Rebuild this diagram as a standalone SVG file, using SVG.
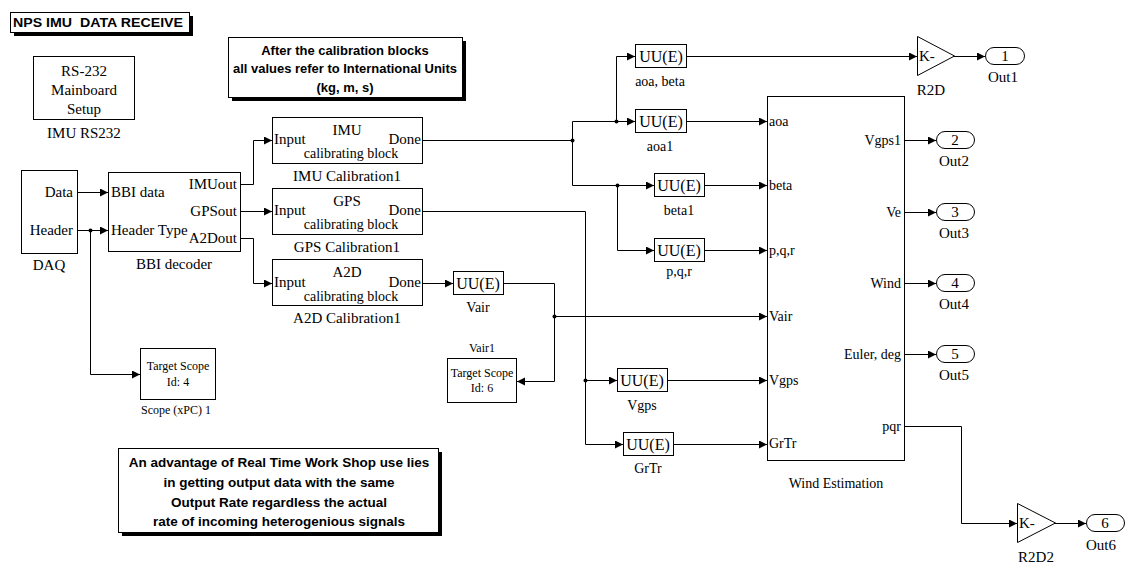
<svg xmlns="http://www.w3.org/2000/svg" width="1125" height="565" viewBox="0 0 1125 565">
<style>
.s{font-family:"Liberation Serif","Times New Roman",serif;font-size:15px;fill:#000}
.cb{font-family:"Liberation Serif","Times New Roman",serif;font-size:14px;fill:#000}
.sm{font-family:"Liberation Serif","Times New Roman",serif;font-size:12px;fill:#000}
.p{font-family:"Liberation Serif","Times New Roman",serif;font-size:14px;fill:#000}
.u{font-family:"Liberation Serif","Times New Roman",serif;font-size:16px;fill:#000}
.b{font-family:"Liberation Sans",Arial,sans-serif;font-size:13.5px;font-weight:bold;fill:#000}
.b2{font-family:"Liberation Sans",Arial,sans-serif;font-size:13px;font-weight:bold;fill:#000}
.box{fill:#fff;stroke:#000;stroke-width:1}
.sh{fill:#000}
.w{fill:none;stroke:#000;stroke-width:1}
.c{text-anchor:middle}
.e{text-anchor:end}
</style>
<defs>
<marker id="a" markerUnits="userSpaceOnUse" markerWidth="9" markerHeight="9" refX="8" refY="4" orient="auto">
<path d="M0,0 L8,4 L0,8 z" fill="#000"/>
</marker>
</defs>
<rect width="1125" height="565" fill="#fff"/>

<g id="title">
<rect class="sh" x="14" y="16" width="179" height="20"/>
<rect class="box" x="10.5" y="12.5" width="179" height="20"/>
<text class="b" x="13" y="27" style="white-space:pre" textLength="170" lengthAdjust="spacingAndGlyphs">NPS IMU  DATA RECEIVE</text>
</g>

<g id="note-calib">
<rect class="sh" x="232" y="41" width="234" height="60"/>
<rect class="box" x="228.5" y="37.5" width="234" height="60"/>
<text class="b2 c" x="345" y="55">After the calibration blocks</text>
<text class="b2 c" x="345" y="73" textLength="224" lengthAdjust="spacingAndGlyphs">all values refer to International Units</text>
<text class="b2 c" x="345" y="92">(kg, m, s)</text>
</g>

<g id="note-rtw">
<rect class="sh" x="122" y="452" width="320" height="84"/>
<rect class="box" x="118.5" y="448.5" width="320" height="84"/>
<text class="b c" x="279" y="467">An advantage of Real Time Work Shop use lies</text>
<text class="b c" x="279" y="487">in getting output data with the same</text>
<text class="b c" x="279" y="507">Output Rate regardless the actual</text>
<text class="b c" x="279" y="526">rate of incoming heterogenious signals</text>
</g>

<g id="imu-rs232">
<rect class="box" x="33.5" y="56.5" width="101" height="63"/>
<text class="s c" x="84" y="76">RS-232</text>
<text class="s c" x="84" y="95">Mainboard</text>
<text class="s c" x="84" y="114">Setup</text>
<text class="s c" x="84" y="138">IMU RS232</text>
</g>

<g id="daq">
<rect class="box" x="21.5" y="170.5" width="56" height="83"/>
<text class="s e" x="73" y="197">Data</text>
<text class="s e" x="73" y="235">Header</text>
<text class="s c" x="49" y="270">DAQ</text>
</g>

<g id="bbi-decoder">
<rect class="box" x="108.5" y="172.5" width="132" height="79"/>
<text class="s" x="111" y="197">BBI data</text>
<text class="s" x="111" y="235">Header Type</text>
<text class="s e" x="237" y="189">IMUout</text>
<text class="s e" x="237" y="216">GPSout</text>
<text class="s e" x="237" y="243">A2Dout</text>
<text class="s c" x="174" y="269">BBI decoder</text>
</g>

<g id="imu-calibration1">
<rect class="box" x="272.5" y="117.5" width="150" height="46"/>
<text class="s c" x="347" y="135">IMU</text>
<text class="s" x="274" y="144">Input</text>
<text class="s e" x="421" y="144">Done</text>
<text class="cb c" x="351" y="158">calibrating block</text>
<text class="s c" x="347" y="181">IMU Calibration1</text>
</g>

<g id="gps-calibration1">
<rect class="box" x="272.5" y="188.5" width="150" height="46"/>
<text class="s c" x="347" y="206">GPS</text>
<text class="s" x="274" y="215">Input</text>
<text class="s e" x="421" y="215">Done</text>
<text class="cb c" x="351" y="229">calibrating block</text>
<text class="s c" x="347" y="252">GPS Calibration1</text>
</g>

<g id="a2d-calibration1">
<rect class="box" x="272.5" y="259.5" width="150" height="46"/>
<text class="s c" x="347" y="277">A2D</text>
<text class="s" x="274" y="287">Input</text>
<text class="s e" x="421" y="287">Done</text>
<text class="cb c" x="351" y="301">calibrating block</text>
<text class="s c" x="347" y="323">A2D Calibration1</text>
</g>

<g id="scope-xpc1">
<rect class="box" x="140.5" y="348.5" width="75" height="51"/>
<text class="sm c" x="178" y="370">Target Scope</text>
<text class="sm c" x="178" y="386">Id: 4</text>
<text class="sm c" x="176" y="414">Scope (xPC) 1</text>
</g>

<g id="vair1">
<rect class="box" x="447.5" y="358.5" width="69" height="44"/>
<text class="sm c" x="482" y="377">Target Scope</text>
<text class="sm c" x="482" y="392">Id: 6</text>
<text class="sm c" x="482" y="352">Vair1</text>
</g>

<g id="uu-aoa-beta">
<rect class="box" x="635.5" y="44.5" width="51" height="23"/>
<text class="u c" x="661" y="62">UU(E)</text>
<text class="p c" x="660" y="86">aoa, beta</text>
</g>
<g id="uu-aoa1">
<rect class="box" x="635.5" y="109.5" width="51" height="23"/>
<text class="u c" x="661" y="127">UU(E)</text>
<text class="p c" x="660" y="151">aoa1</text>
</g>
<g id="uu-beta1">
<rect class="box" x="654.5" y="173.5" width="50" height="23"/>
<text class="u c" x="679" y="191">UU(E)</text>
<text class="p c" x="679" y="215">beta1</text>
</g>
<g id="uu-pqr">
<rect class="box" x="654.5" y="238.5" width="50" height="23"/>
<text class="u c" x="679" y="256">UU(E)</text>
<text class="p c" x="679" y="276">p,q,r</text>
</g>
<g id="uu-vair">
<rect class="box" x="453.5" y="271.5" width="50" height="23"/>
<text class="u c" x="478" y="289">UU(E)</text>
<text class="p c" x="478" y="312">Vair</text>
</g>
<g id="uu-vgps">
<rect class="box" x="617.5" y="368.5" width="50" height="23"/>
<text class="u c" x="642" y="386">UU(E)</text>
<text class="p c" x="642" y="410">Vgps</text>
</g>
<g id="uu-grtr">
<rect class="box" x="623.5" y="432.5" width="50" height="23"/>
<text class="u c" x="648" y="450">UU(E)</text>
<text class="p c" x="648" y="473">GrTr</text>
</g>

<g id="wind-estimation">
<rect class="box" x="767.5" y="96.5" width="137" height="364"/>
<text class="p" x="769" y="126">aoa</text>
<text class="p" x="769" y="190">beta</text>
<text class="p" x="769" y="255">p,q,r</text>
<text class="p" x="769" y="321">Vair</text>
<text class="p" x="769" y="385">Vgps</text>
<text class="p" x="769" y="448">GrTr</text>
<text class="p e" x="901" y="145">Vgps1</text>
<text class="p e" x="901" y="217">Ve</text>
<text class="p e" x="901" y="288">Wind</text>
<text class="p e" x="901" y="359">Euler, deg</text>
<text class="p e" x="901" y="431">pqr</text>
<text class="p c" x="836" y="488">Wind Estimation</text>
</g>

<g id="r2d">
<polygon class="box" points="917.5,36.5 954.5,56 917.5,75.5"/>
<text class="s" x="919" y="61">K-</text>
<text class="s c" x="931" y="95">R2D</text>
</g>
<g id="r2d2">
<polygon class="box" points="1017.5,503.5 1055.5,523 1017.5,542.5"/>
<text class="s" x="1019" y="528">K-</text>
<text class="s c" x="1036" y="562">R2D2</text>
</g>

<g id="out1">
<rect class="box" x="985.5" y="47.5" width="39" height="17" rx="8.5"/>
<text class="s c" x="1005" y="61">1</text>
<text class="s c" x="1003" y="82">Out1</text>
</g>
<g id="out2">
<rect class="box" x="936.5" y="131.5" width="38" height="17" rx="8.5"/>
<text class="s c" x="955" y="145">2</text>
<text class="s c" x="954" y="166">Out2</text>
</g>
<g id="out3">
<rect class="box" x="936.5" y="203.5" width="38" height="17" rx="8.5"/>
<text class="s c" x="955" y="217">3</text>
<text class="s c" x="954" y="238">Out3</text>
</g>
<g id="out4">
<rect class="box" x="936.5" y="274.5" width="38" height="17" rx="8.5"/>
<text class="s c" x="955" y="288">4</text>
<text class="s c" x="954" y="309">Out4</text>
</g>
<g id="out5">
<rect class="box" x="936.5" y="345.5" width="38" height="17" rx="8.5"/>
<text class="s c" x="955" y="359">5</text>
<text class="s c" x="954" y="380">Out5</text>
</g>
<g id="out6">
<rect class="box" x="1086.5" y="514.5" width="38" height="17" rx="8.5"/>
<text class="s c" x="1105" y="528">6</text>
<text class="s c" x="1101" y="550">Out6</text>
</g>

<g id="connectors" class="w">
<path marker-end="url(#a)" d="M77,192.5 H108"/>
<path marker-end="url(#a)" d="M77,230.5 H108"/>
<path marker-end="url(#a)" d="M90.5,230.5 V374.5 H140"/>
<path marker-end="url(#a)" d="M240,184.5 H253.5 V140.5 H272"/>
<path marker-end="url(#a)" d="M240,211.5 H272"/>
<path marker-end="url(#a)" d="M240,238.5 H253.5 V283.5 H272"/>
<path d="M422,140.5 H572.5"/>
<path marker-end="url(#a)" d="M572.5,121.5 H635"/>
<path d="M572.5,121.5 V185.5"/>
<path marker-end="url(#a)" d="M616.5,121.5 V56.5 H635"/>
<path marker-end="url(#a)" d="M572.5,185.5 H654"/>
<path marker-end="url(#a)" d="M617.5,185.5 V250.5 H654"/>
<path marker-end="url(#a)" d="M686,56.5 H917"/>
<path marker-end="url(#a)" d="M954,56.5 H985"/>
<path marker-end="url(#a)" d="M686,121.5 H767"/>
<path marker-end="url(#a)" d="M704,185.5 H767"/>
<path marker-end="url(#a)" d="M704,250.5 H767"/>
<path marker-end="url(#a)" d="M422,283.5 H453"/>
<path marker-end="url(#a)" d="M503,283.5 H554.5 V381.5 H517"/>
<path marker-end="url(#a)" d="M554.5,316.5 H767"/>
<path marker-end="url(#a)" d="M422,211.5 H585.5 V444.5 H623"/>
<path marker-end="url(#a)" d="M585.5,380.5 H617"/>
<path marker-end="url(#a)" d="M667,380.5 H767"/>
<path marker-end="url(#a)" d="M673,444.5 H767"/>
<path marker-end="url(#a)" d="M904,140.5 H936"/>
<path marker-end="url(#a)" d="M904,212.5 H936"/>
<path marker-end="url(#a)" d="M904,283.5 H936"/>
<path marker-end="url(#a)" d="M904,354.5 H936"/>
<path marker-end="url(#a)" d="M904,426.5 H961.5 V523.5 H1017"/>
<path marker-end="url(#a)" d="M1055,523.5 H1086"/>
</g>
<g id="junctions" fill="#000">
<circle cx="90.5" cy="230.5" r="2"/>
<circle cx="572.5" cy="140.5" r="2"/>
<circle cx="616.5" cy="121.5" r="2"/>
<circle cx="617.5" cy="185.5" r="2"/>
<circle cx="554.5" cy="316.5" r="2"/>
<circle cx="585.5" cy="380.5" r="2"/>
</g>
</svg>
